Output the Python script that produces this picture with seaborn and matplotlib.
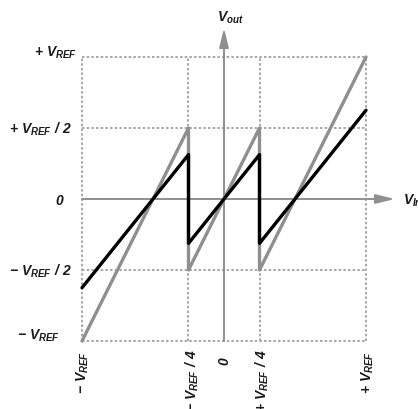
import matplotlib
matplotlib.use("Agg")
import matplotlib.pyplot as plt
import pandas as pd
import seaborn as sns

# breakpoints of the residue curves (Vin and Vout in units of V_REF)
vin_points = [-1.0, -0.25, -0.25, 0.25, 0.25, 1.0]
vout_ideal = [-1.0, 0.5, -0.5, 0.5, -0.5, 1.0]
vout_real = [-0.625, 0.3125, -0.3125, 0.3125, -0.3125, 0.625]

grid_levels = [-1.0, -0.5, 0.5, 1.0]
grid_inputs = [-1.0, -0.25, 0.25, 1.0]

y_tick_values = [1.0, 0.5, 0.0, -0.5, -1.0]
y_tick_labels = [r"$+\ V_{REF}$", r"$+\ V_{REF}\ /\ 2$", r"$0$",
                 r"$-\ V_{REF}\ /\ 2$", r"$-\ V_{REF}$"]
x_tick_values = [-1.0, -0.25, 0.0, 0.25, 1.0]
x_tick_labels = [r"$-\ V_{REF}$", r"$-\ V_{REF}\ /\ 4$", r"$0$",
                 r"$+\ V_{REF}\ /\ 4$", r"$+\ V_{REF}$"]

sns.set_style("white")
plt.rcParams["mathtext.fontset"] = "custom"
plt.rcParams["mathtext.rm"] = "Liberation Sans:italic:bold"
plt.rcParams["mathtext.it"] = "Liberation Sans:italic:bold"
plt.rcParams["mathtext.bf"] = "Liberation Sans:italic:bold"
plt.rcParams["font.family"] = ["Liberation Sans", "DejaVu Sans"]

GRAY = "#8f8f8f"
GRID = "#a8a8a8"
TEXT = "#1a1a1a"
PX = 142.0  # pixels per V_REF


def px_x(px):
    return (px - 224) / PX


def px_y(py):
    return (200 - py) / PX


fig = plt.figure(figsize=(4.18, 4.10), dpi=100)
ax = fig.add_axes([0, 0, 1, 1])
ax.set_xlim(px_x(0), px_x(418))
ax.set_ylim(px_y(410), px_y(0))
ax.set_axis_off()

# dotted reference grid
for lvl in grid_levels:
    ax.plot([-1, 1], [lvl, lvl], color=GRID, lw=1.4, ls=(0, (1.3, 1.1)), zorder=1)
for v in grid_inputs:
    ax.plot([v, v], [-1, 1], color=GRID, lw=1.4, ls=(0, (1.3, 1.1)), zorder=1)

# axes with arrows
ax.annotate("", xy=(1.204, 0), xytext=(-1, 0),
            arrowprops=dict(arrowstyle="-|>,head_length=1.15,head_width=0.28",
                            mutation_scale=10, color=GRAY, lw=1.4,
                            shrinkA=0, shrinkB=0), zorder=2)
ax.annotate("", xy=(0, 1.204), xytext=(0, -1),
            arrowprops=dict(arrowstyle="-|>,head_length=1.15,head_width=0.28",
                            mutation_scale=10, color=GRAY, lw=1.4,
                            shrinkA=0, shrinkB=0), zorder=2)

df = pd.DataFrame({"vin": vin_points, "ideal": vout_ideal, "real": vout_real})
sns.lineplot(data=df, x="vin", y="ideal", sort=False, estimator=None,
             color=GRAY, lw=2.4, ax=ax, zorder=3)
sns.lineplot(data=df, x="vin", y="real", sort=False, estimator=None,
             color="black", lw=2.4, ax=ax, zorder=4)
ax.set_axis_off()

# y labels (left)
y_label_right = [77, 72, 65, 72, 60]
y_label_base = [57, 134, 205, 276, 340]
for lab, xr, yb in zip(y_tick_labels, y_label_right, y_label_base):
    ax.text(px_x(xr), px_y(yb), lab, ha="right", va="baseline",
            fontsize=10, color=TEXT, clip_on=False)

# x labels (bottom, rotated)
x_label_center = [83, 192, 225, 262, 368]
x_label_top = [351, 349, 356, 349, 351]
for lab, xc, yt in zip(x_tick_labels, x_label_center, x_label_top):
    ax.text(px_x(xc), px_y(yt), lab, ha="center", va="top", rotation=90,
            fontsize=10, color=TEXT, clip_on=False)

# axis names
ax.text(px_x(230), px_y(18), r"$V_{out}$", ha="center", va="center",
        fontsize=10, color=TEXT)
ax.text(px_x(403), px_y(205), r"$V_{In}$", ha="left", va="baseline",
        fontsize=10, color=TEXT)

fig.savefig("out.png", dpi=100)
